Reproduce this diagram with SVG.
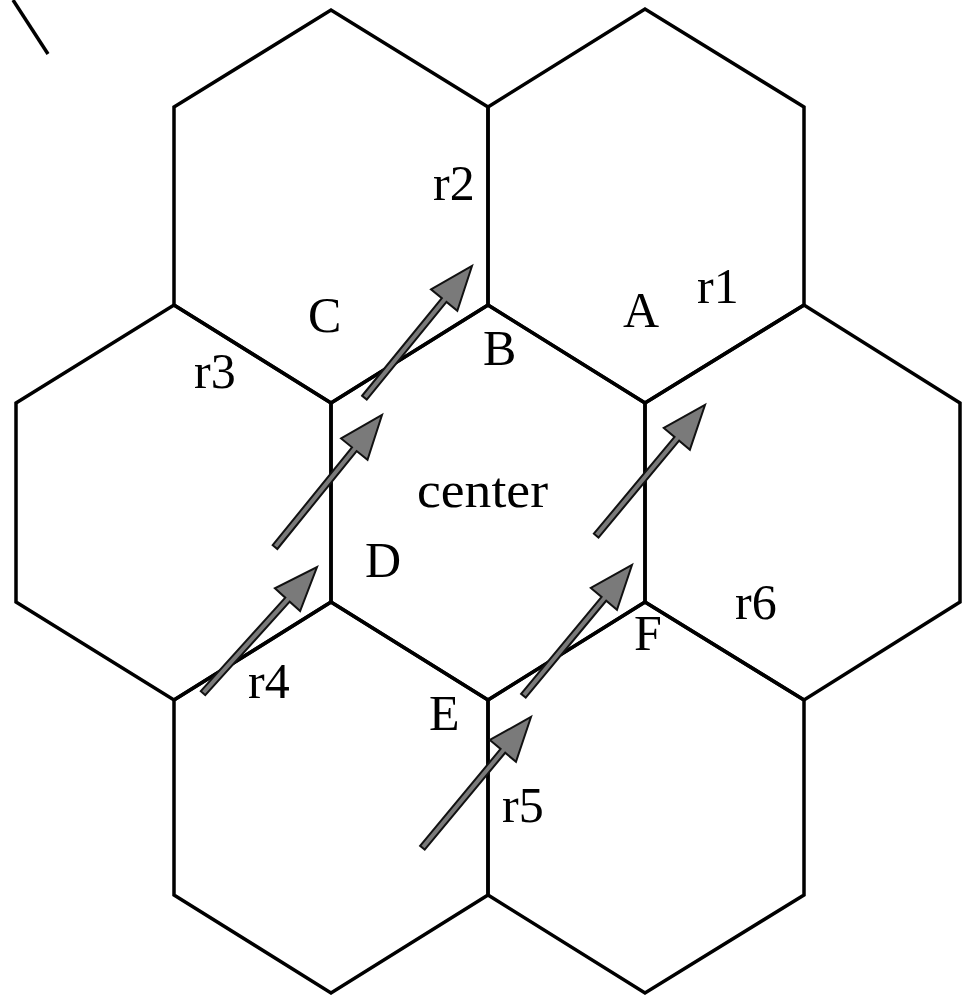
<svg xmlns="http://www.w3.org/2000/svg" width="964" height="999" viewBox="0 0 964 999">
<style>
.hex{fill:none;stroke:#000;stroke-width:3.5;stroke-linejoin:miter}
.lbl{font-family:"Liberation Serif","DejaVu Serif",serif;font-size:50px;fill:#000}
.arr{fill:#7a7a7a;stroke:#111;stroke-width:2;stroke-linejoin:miter}
</style>
<defs>
<path id="arrow" class="arr" d="M-170,-3 L-44,-3 L-44,-17 L0,0 L-44,17 L-44,3 L-170,3 Z"/>
</defs>
<rect width="964" height="999" fill="#fff"/>
<g id="cells">
<g id="hex-top-left"><polygon class="hex" points="174,107 331,10 488,107 488,305 331,403 174,305"/></g>
<g id="hex-top-right"><polygon class="hex" points="488,107 645,9 804,107 804,305 645,403 488,305"/></g>
<g id="hex-left"><polygon class="hex" points="16,403 174,305 331,403 331,602 174,700 16,602"/></g>
<g id="hex-center"><polygon class="hex" points="331,403 488,305 645,403 645,602 488,700 331,602"/></g>
<g id="hex-right"><polygon class="hex" points="645,403 804,305 960,403 960,602 804,700 645,602"/></g>
<g id="hex-bottom-left"><polygon class="hex" points="174,700 331,602 488,700 488,895 331,993 174,895"/></g>
<g id="hex-bottom-right"><polygon class="hex" points="488,700 645,602 804,700 804,895 645,993 488,895"/></g>
<line x1="13" y1="0" x2="48" y2="54" stroke="#000" stroke-width="3.5"/>
</g>
<g id="connectors">
<use href="#arrow" transform="translate(472,266) rotate(-50.75)"/>
<use href="#arrow" transform="translate(382,415) rotate(-51)"/>
<use href="#arrow" transform="translate(317,567) rotate(-47.9)"/>
<use href="#arrow" transform="translate(705,405) rotate(-50.2)"/>
<use href="#arrow" transform="translate(632,565) rotate(-50.3)"/>
<use href="#arrow" transform="translate(531,717) rotate(-50.3)"/>
</g>
<g id="labels">
<text class="lbl" x="433" y="200">r2</text>
<text class="lbl" x="308" y="332">C</text>
<text class="lbl" x="194" y="388">r3</text>
<text class="lbl" x="623" y="327">A</text>
<text class="lbl" x="697" y="303">r1</text>
<text class="lbl" x="483" y="365">B</text>
<text class="lbl" x="417" y="507" textLength="131" lengthAdjust="spacingAndGlyphs">center</text>
<text class="lbl" x="365" y="577">D</text>
<text class="lbl" x="248" y="698">r4</text>
<text class="lbl" x="429" y="730">E</text>
<text class="lbl" x="634" y="650">F</text>
<text class="lbl" x="735" y="619">r6</text>
<text class="lbl" x="502" y="822">r5</text>
</g>
</svg>
